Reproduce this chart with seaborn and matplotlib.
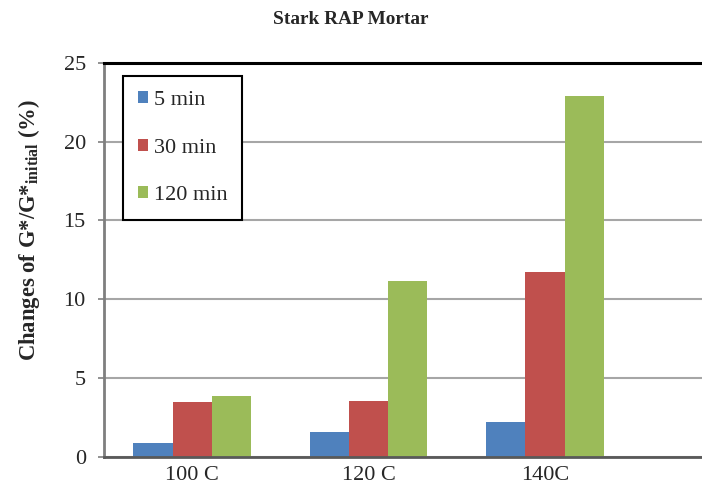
import pandas as pd
import matplotlib
matplotlib.use("Agg")
import matplotlib.pyplot as plt
import seaborn as sns

# values
temps = ["100 C", "120 C", "140C"]
times = ["5 min", "30 min", "120 min"]
change_5 = [0.88, 1.54, 2.18]
change_30 = [3.45, 3.53, 11.7]
change_120 = [3.87, 11.17, 22.9]
colors = ["#4F81BD", "#C0504D", "#9BBB59"]

sns.set_style("white")
plt.rcParams["font.family"] = ["Liberation Serif", "DejaVu Serif"]
plt.rcParams["mathtext.fontset"] = "custom"
plt.rcParams["mathtext.rm"] = "Liberation Serif"
plt.rcParams["mathtext.bf"] = "Liberation Serif:bold"

rows = []
for name, vals in zip(times, [change_5, change_30, change_120]):
    for t, v in zip(temps, vals):
        rows.append({"temp": t, "time": name, "change": v})
df = pd.DataFrame(rows)

fig = plt.figure(figsize=(7.02, 4.96), dpi=100)
ax = fig.add_axes([0.148, 0.0796, 0.852, 0.7934])

sns.barplot(data=df, x="temp", y="change", hue="time", order=temps,
            hue_order=times, palette=colors, saturation=1, width=0.665,
            linewidth=0, errorbar=None, ax=ax)

ax.set_ylim(0, 25)
ax.set_xlim(-0.5, 2.89)
ax.set_yticks([0, 5, 10, 15, 20, 25])
ax.yaxis.grid(True, color="#A6A6A6", linewidth=1.5)
ax.set_axisbelow(True)

for side in ["left", "bottom"]:
    ax.spines[side].set_color("#7F7F7F")
    ax.spines[side].set_linewidth(2)
ax.spines["bottom"].set_color("#595959")
ax.spines["top"].set_color("black")
ax.spines["top"].set_linewidth(2.2)
ax.spines["right"].set_visible(False)

ax.tick_params(axis="y", which="both", left=True, length=4.5, width=1.2,
               color="#7F7F7F", labelsize=16, pad=8.5)
ax.tick_params(axis="x", bottom=False, labelsize=16, pad=3)

ax.set_xlabel("")
ax.set_ylabel("")
fig.text(29.5 / 702, 1 - 230 / 496,
         r"Changes of G*/G*$_{\mathbf{initial}}$ (%)", fontsize=16.3,
         fontweight="bold", rotation=90, ha="center", va="center")
fig.suptitle("Stark RAP Mortar", fontsize=13.9, fontweight="bold", y=0.978)

leg = ax.legend(loc="upper left", bbox_to_anchor=(0.032, 0.966),
                fontsize=16, frameon=True, fancybox=False,
                handlelength=0.45, handleheight=0.45, handletextpad=0.27,
                labelspacing=1.29, borderpad=0.66, borderaxespad=0)
leg.get_frame().set_edgecolor("black")
leg.get_frame().set_linewidth(1.5)
leg.get_frame().set_alpha(1)

fig.savefig("out.png", dpi=100)
